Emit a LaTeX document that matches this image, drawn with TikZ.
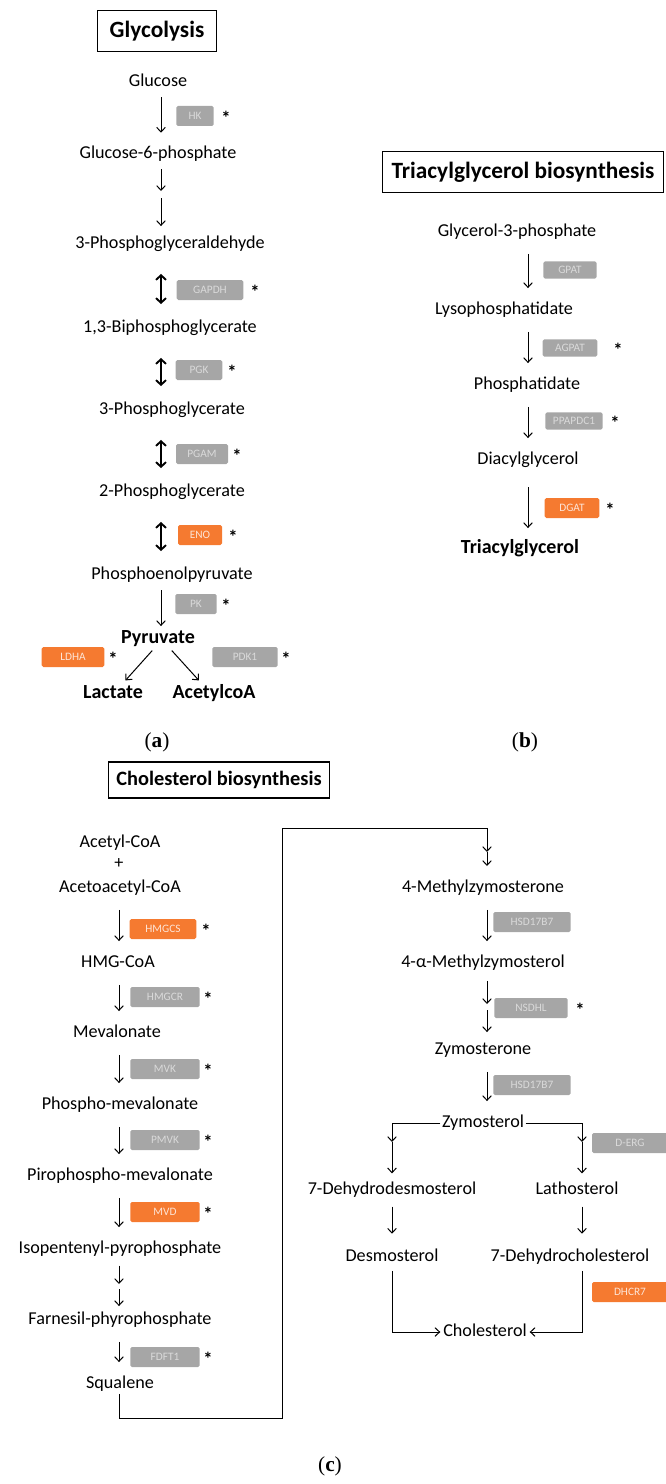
\documentclass[tikz,border=0pt]{standalone}
\usepackage{fontspec}
\setmainfont{Carlito}
\newfontfamily\panelfont{Liberation Serif}
\usetikzlibrary{arrows.meta}

\definecolor{genegray}{RGB}{166,166,166}
\definecolor{hitorange}{RGB}{245,122,48}
\definecolor{genetext}{RGB}{218,218,218}

\tikzset{
  met/.style={font=\fontsize{13.6}{16}\selectfont, inner sep=1pt, text height=9.5pt, text depth=3pt},
  prod/.style={font=\fontsize{15}{18}\selectfont\bfseries, inner sep=1pt, text height=10.5pt, text depth=3pt},
  title/.style={draw, line width=0.9pt, font=\fontsize{17.5}{20}\selectfont\bfseries, minimum height=31pt},
  gene/.style={fill=genegray, rounded corners=1.2pt, minimum height=15pt, inner sep=1pt, text=genetext, font=\fontsize{8.5}{9}\selectfont},
  hit/.style={gene, fill=hitorange, text=white!80!hitorange},
  sig/.style={font=\fontsize{14}{14}\selectfont\bfseries, inner sep=0pt},
  arr/.style={-{Straight Barb[length=3.5pt,width=6.5pt]}, line width=0.75pt, shorten <=4pt, shorten >=8.5pt},
  arrs/.style={arr, shorten <=9pt, shorten >=9pt},
  partarr/.style={-{Straight Barb[length=3.5pt,width=6.5pt]}, line width=0.75pt},
  rev/.style={{Straight Barb[length=3.5pt,width=7.5pt]}-{Straight Barb[length=3.5pt,width=7.5pt]}, line width=1.4pt, shorten <=15pt, shorten >=10.5pt},
  panel/.style={font=\panelfont\fontsize{16}{18}\selectfont}
}

\begin{document}
\begin{tikzpicture}[x=0.75pt,y=-0.75pt]
\useasboundingbox (0,0) rectangle (665,1484);

% (a) glycolysis
\node[title, minimum width=89pt] (tglyc) at (157,31) {Glycolysis};
\node[met] (glc) at (158,82) {Glucose};
\node[met] (g6p) at (158,154) {Glucose-6-phosphate};
\node[met] (gap) at (170,244) {3-Phosphoglyceraldehyde};
\node[met] (bpg) at (170,328) {1,3-Biphosphoglycerate};
\node[met] (pg3) at (172,410) {3-Phosphoglycerate};
\node[met] (pg2) at (172,492) {2-Phosphoglycerate};
\node[met] (pep) at (172,575) {Phosphoenolpyruvate};
\node[prod] (pyr) at (158,638) {Pyruvate};
\node[prod] (lac) at (113,693) {Lactate};
\node[prod] (aca) at (214,693) {AcetylcoA};

\node[gene, minimum width=28pt] (hk) at (195,116) {HK};
\node[sig] (hks) at (226,118) {*};
\node[gene, minimum width=50pt] (gapdh) at (210,290) {GAPDH};
\node[sig] (gapdhs) at (255,292) {*};
\node[gene, minimum width=35pt] (pgk) at (199,370) {PGK};
\node[sig] (pgks) at (232,372) {*};
\node[gene, minimum width=39pt] (pgam) at (202,454) {PGAM};
\node[sig] (pgams) at (237,456) {*};
\node[hit, minimum width=33pt] (eno) at (200,535) {ENO};
\node[sig] (enos) at (233,537) {*};
\node[gene, minimum width=31pt] (pk) at (196,604) {PK};
\node[sig] (pks) at (226,606) {*};
\node[hit, minimum width=47pt] (ldh) at (73,657) {LDHA};
\node[sig] (ldhs) at (113,659) {*};
\node[gene, minimum width=49pt] (pdh) at (245,657) {PDK1};
\node[sig] (pdhs) at (286,659) {*};

\coordinate (ax) at (161,0);
\coordinate (s1) at (161,191);
\coordinate (s2) at (161,198);
\draw[arr] (glc.south -| ax) -- (g6p.north -| ax);
\draw[partarr, shorten <=4pt] (g6p.south -| ax) -- (s1);
\draw[arr, shorten <=0pt, shorten >=6pt] (s2) -- (gap.north -| ax);
\draw[rev] (gap.south -| ax) -- (bpg.north -| ax);
\draw[rev] (bpg.south -| ax) -- (pg3.north -| ax);
\draw[rev] (pg3.south -| ax) -- (pg2.north -| ax);
\draw[rev] (pg2.south -| ax) -- (pep.north -| ax);
\draw[arr, shorten >=1pt] (pep.south -| ax) -- (pyr.north -| ax);
\draw[arr, shorten <=2pt, shorten >=2pt] ([xshift=-3pt]pyr.south) -- ([xshift=8pt]lac.north);
\draw[arr, shorten <=2pt, shorten >=2pt] ([xshift=9pt]pyr.south) -- ([xshift=-10pt]aca.north);
\node[panel] (pa) at (157,742) {(\textbf{a})};

% (b) triacylglycerol
\node[title, minimum width=211pt] (ttag) at (523,172) {Triacylglycerol biosynthesis};
\node[met] (g3p) at (517,232) {Glycerol-3-phosphate};
\node[met] (lyso) at (504,310) {Lysophosphatidate};
\node[met] (pa2) at (527,385) {Phosphatidate};
\node[met] (dag) at (528,460) {Diacylglycerol};
\node[prod] (tag) at (520,548) {Triacylglycerol};

\node[gene, minimum width=40pt, minimum height=13pt] (gpat) at (570,270) {GPAT};
\node[gene, minimum width=41pt, minimum height=13pt] (agpat) at (570,348) {AGPAT};
\node[sig] (agpats) at (618,350) {*};
\node[gene, minimum width=43pt, minimum height=13pt] (ppap) at (574,421) {PPAPDC1};
\node[sig] (ppaps) at (615,423) {*};
\node[hit, minimum width=41pt] (dgat) at (572,508) {DGAT};
\node[sig] (dgats) at (610,510) {*};

\coordinate (bx) at (528,0);
\draw[arrs] (g3p.south -| bx) -- (lyso.north -| bx);
\draw[arrs] (lyso.south -| bx) -- (pa2.north -| bx);
\draw[arrs] (pa2.south -| bx) -- (dag.north -| bx);
\draw[arrs, shorten <=13pt, shorten >=7pt] (dag.south -| bx) -- (tag.north -| bx);
\node[panel] (pb) at (525,742) {(\textbf{b})};

% (c) cholesterol
\node[title, minimum width=166pt, minimum height=27pt, font=\fontsize{15.3}{18}\selectfont\bfseries] (tchol) at (219,780) {Cholesterol biosynthesis};
\node[met] (acoa) at (120,843) {Acetyl-CoA};
\node[met] (plus) at (119,864) {+};
\node[met] (aacoa) at (120,888) {Acetoacetyl-CoA};
\node[met] (hmgcoa) at (118,963) {HMG-CoA};
\node[met] (mev) at (117,1033) {Mevalonate};
\node[met] (pmev) at (120,1105) {Phospho-mevalonate};
\node[met] (ppmev) at (120,1176) {Pirophospho-mevalonate};
\node[met] (ipp) at (120,1249) {Isopentenyl-pyrophosphate};
\node[met] (fpp) at (120,1320) {Farnesil-phyrophosphate};
\node[met] (sq) at (120,1384) {Squalene};

\node[hit, minimum width=50pt] (hmgcs) at (163,929) {HMGCS};
\node[sig] (hmgcss) at (206,931) {*};
\node[gene, minimum width=52pt] (hmgcr) at (165,997) {HMGCR};
\node[sig] (hmgcrs) at (208,999) {*};
\node[gene, minimum width=52pt] (mvk) at (165,1069) {MVK};
\node[sig] (mvks) at (208,1071) {*};
\node[gene, minimum width=52pt] (pmvk) at (165,1140) {PMVK};
\node[sig] (pmvks) at (208,1142) {*};
\node[hit, minimum width=52pt] (mvd) at (165,1212) {MVD};
\node[sig] (mvds) at (208,1214) {*};
\node[gene, minimum width=52pt] (fdft) at (165,1357) {FDFT1};
\node[sig] (fdfts) at (208,1359) {*};

\coordinate (cx) at (119,0);
\coordinate (t1) at (119,1284);
\coordinate (t2) at (119,1289);
\draw[arrs] (aacoa.south -| cx) -- (hmgcoa.north -| cx);
\draw[arrs] (hmgcoa.south -| cx) -- (mev.north -| cx);
\draw[arrs] (mev.south -| cx) -- (pmev.north -| cx);
\draw[arrs] (pmev.south -| cx) -- (ppmev.north -| cx);
\draw[arrs] (ppmev.south -| cx) -- (ipp.north -| cx);
\draw[partarr, shorten <=5pt] (ipp.south -| cx) -- (t1);
\draw[arr, shorten <=0pt, shorten >=3pt] (t2) -- (fpp.north -| cx);
\draw[arrs] (fpp.south -| cx) -- (sq.north -| cx);

\coordinate (c1) at (282,1418);
\coordinate (c2) at (487,828);
\coordinate (c3) at (487,852);
\draw[line width=0.75pt] (sq.south -| cx) |- (c1) |- (c2);
\draw[partarr] (c2) -- (c3);
\draw[arr, shorten <=0pt, shorten >=0pt] (c3) -- (c3 |- 0,866);

\node[met] (mz4) at (483,888) {4-Methylzymosterone};
\node[met] (mzl) at (483,963) {4-α-Methylzymosterol};
\node[met] (zyone) at (483,1050) {Zymosterone};
\node[met] (zyol) at (483,1123) {Zymosterol};
\node[met] (dds) at (392,1190) {7-Dehydrodesmosterol};
\node[met] (lath) at (577,1190) {Lathosterol};
\node[met] (des) at (392,1257) {Desmosterol};
\node[met] (dhc) at (570,1257) {7-Dehydrocholesterol};
\node[met] (chol) at (485,1332) {Cholesterol};

\node[gene, minimum width=58pt] (hsda) at (532,922) {HSD17B7};
\node[gene, minimum width=55pt] (nsdhl) at (531,1008) {NSDHL};
\node[sig] (nsdhls) at (580,1010) {*};
\node[gene, minimum width=58pt] (hsdb) at (532,1085) {HSD17B7};
\node[gene, minimum width=57pt] (ebp) at (630,1143) {D-ERG};
\node[hit, minimum width=57pt] (dhcr) at (630,1292) {DHCR7};

\coordinate (rx) at (487,0);
\coordinate (n1) at (487,1004);
\coordinate (n2) at (487,1010);
\draw[arrs] (mz4.south -| rx) -- (mzl.north -| rx);
\draw[partarr, shorten <=6pt] (mzl.south -| rx) -- (n1);
\draw[arr, shorten <=0pt, shorten >=6pt] (n2) -- (zyone.north -| rx);
\draw[arrs] (zyone.south -| rx) -- (zyol.north -| rx);

\coordinate (l1) at (392,1123);
\coordinate (l2) at (392,1142);
\coordinate (r1) at (582,1123);
\coordinate (r2) at (582,1142);
\draw[line width=0.75pt] (zyol.west) -- (l1);
\draw[line width=0.75pt] (zyol.east) -- (r1);
\draw[partarr] (l1) -- (l2);
\draw[arr, shorten <=0pt, shorten >=5pt] (l2) -- (dds.north -| l1);
\draw[partarr] (r1) -- (r2);
\draw[arr, shorten <=0pt, shorten >=5pt] (r2) -- (lath.north -| r1);
\draw[arrs, shorten <=5pt, shorten >=10pt] (dds.south -| l1) -- (des.north -| l1);
\draw[arrs, shorten <=5pt, shorten >=10pt] (lath.south -| r1) -- (dhc.north -| r1);
\draw[arr, shorten <=3pt, shorten >=1pt] (des.south -| l1) |- (chol.west);
\draw[arr, shorten <=3pt, shorten >=1pt] (dhc.south -| r1) |- (chol.east);
\node[panel] (pc) at (330,1466) {(\textbf{c})};
\end{tikzpicture}
\end{document}
